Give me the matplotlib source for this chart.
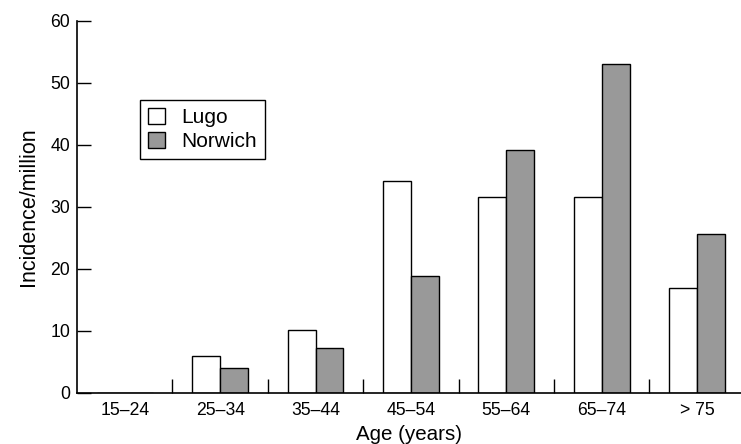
import matplotlib.pyplot as plt
import numpy as np

plt.rcParams['font.family'] = ['Liberation Sans', 'DejaVu Sans']

age_groups = ['15–24', '25–34', '35–44', '45–54', '55–64', '65–74', '> 75']
lugo = [0, 6.0, 10.1, 34.2, 31.6, 31.6, 17.0]
norwich = [0, 4.1, 7.2, 18.8, 39.2, 53.0, 25.6]

x = np.arange(len(age_groups))
w = 0.293

fig = plt.figure(figsize=(7.41, 4.44), dpi=100)
ax = fig.add_axes([0.104, 0.115, 0.896, 0.838])

ax.bar(x - w / 2, lugo, w, color='white', edgecolor='black', linewidth=1.0, label='Lugo')
ax.bar(x + w / 2, norwich, w, color='#999999', edgecolor='black', linewidth=1.0, label='Norwich')

ax.set_xlim(-0.5, 6.46)
ax.set_ylim(0, 60)
ax.set_yticks(range(0, 61, 10))
ax.set_xticks(x)
ax.set_xticklabels(age_groups)
ax.set_xticks(x[:-1] + 0.5, minor=True)

ax.tick_params(axis='y', direction='in', length=10, width=1.0, pad=5, labelsize=12.7)
ax.tick_params(axis='x', which='major', length=0, pad=6.5, labelsize=12.7)
ax.tick_params(axis='x', which='minor', direction='in', length=10, width=1.0)

for s in ['top', 'right']:
    ax.spines[s].set_visible(False)
for s in ['left', 'bottom']:
    ax.spines[s].set_linewidth(1.2)

ax.set_xlabel('Age (years)', fontsize=14.8, labelpad=4)
ax.set_ylabel('Incidence/million', fontsize=15.5, labelpad=8)

leg = ax.legend(loc='upper left', bbox_to_anchor=(0.0955, 0.788), fontsize=15,
                frameon=True, fancybox=False, edgecolor='black', framealpha=1,
                handlelength=0.8, handleheight=0.8, handletextpad=0.8,
                borderpad=0.38, labelspacing=0.25, borderaxespad=0)
leg.get_frame().set_linewidth(1.0)

plt.savefig('out.png', dpi=100)
